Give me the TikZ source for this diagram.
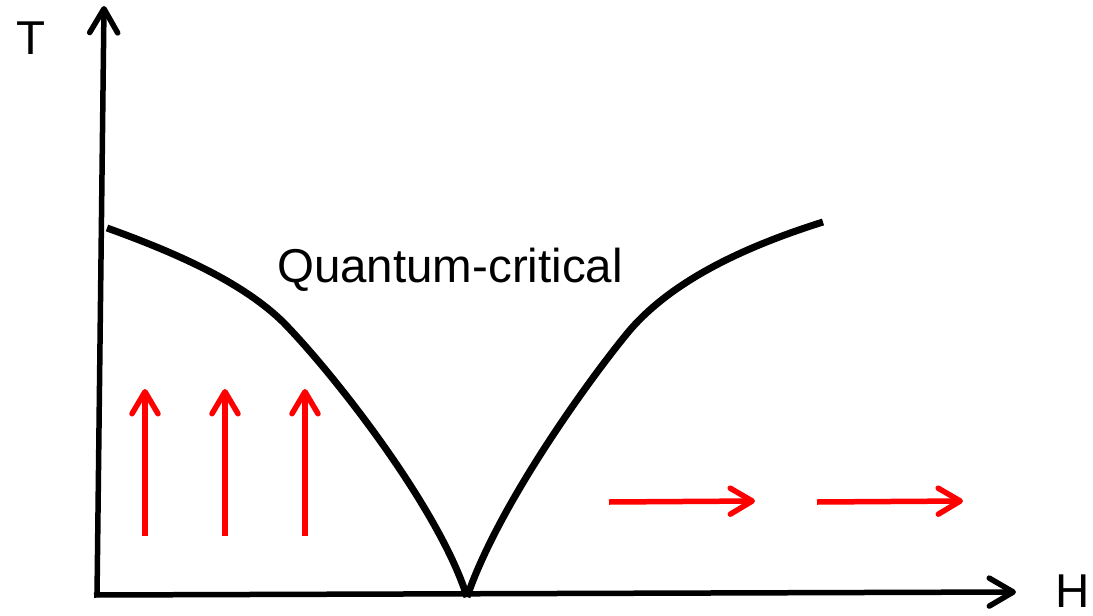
\documentclass[tikz,border=0pt]{standalone}
\usepackage{fontspec}
\setmainfont{Liberation Sans}
\usetikzlibrary{arrows.meta}
\begin{document}
\begin{tikzpicture}[x=1pt,y=-1pt,
  axis/.style={line width=5.5pt,-{Straight Barb[length=24pt,width=28pt,line width=5.5pt,round]}},
  spin/.style={red,line width=5.5pt,-{Straight Barb[length=22pt,width=26pt,line width=5.5pt,round]}},
  phase/.style={line width=7pt},
  lbl/.style={font=\fontsize{47.5}{52}\selectfont,inner sep=0pt}]
\useasboundingbox (0,0) rectangle (1093,616);
\coordinate (ybot) at (97,597);
\coordinate (xbeg) at (94,595);
\coordinate (ytop) at (104,6);
\coordinate (xend) at (1016,592);
\draw[axis] (ybot) -- (ytop);
\draw[axis] (xbeg) -- (xend);
\node[lbl] (T) at (31,38) {T};
\node[lbl] (H) at (1073,591) {H};
\node[lbl] (qc) at (450,270) {Quantum-critical};
\coordinate (lstart) at (107,228);
\coordinate (lmid) at (283,322);
\coordinate (qcp) at (467,597);
\coordinate (rmid) at (630,330);
\coordinate (rend) at (823,222);
\draw[phase] (lstart) .. controls (185,256) and (245,285) .. (lmid)
  .. controls (335,375) and (440,510) .. (qcp);
\draw[phase] (qcp) .. controls (500,500) and (598,368) .. (rmid)
  .. controls (675,278) and (750,245) .. (rend);
\foreach \x/\n in {145/a,225/b,305/c} {
  \coordinate (s\n) at (\x,536);
  \coordinate (e\n) at (\x,389);
  \draw[spin] (s\n) -- (e\n);
}
\coordinate (r1s) at (609,502);
\coordinate (r1e) at (755,501);
\coordinate (r2s) at (817,502);
\coordinate (r2e) at (963,501);
\draw[spin] (r1s) -- (r1e);
\draw[spin] (r2s) -- (r2e);
\end{tikzpicture}
\end{document}
